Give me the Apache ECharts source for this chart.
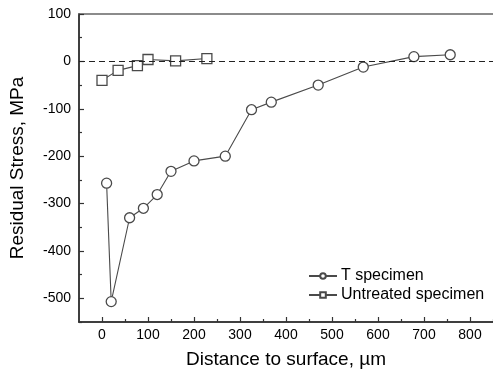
<!DOCTYPE html>
<html>
<head>
<meta charset="utf-8">
<script src="https://cdn.jsdelivr.net/npm/echarts@6/dist/echarts.min.js"></script>
<style>html,body{margin:0;padding:0;background:#fff}#c{width:493px;height:374px}</style>
</head>
<body>
<div id="c"></div>
<script>
// T specimen
const tDepth  = [10, 20, 60, 90, 120, 150, 200, 268, 325, 368, 470, 568, 678, 757];
const tStress = [-257, -507, -330, -310, -281, -232, -210, -200, -102, -86, -50, -12, 10, 14];
// Untreated specimen
const uDepth  = [0, 35, 77, 100, 160, 228];
const uStress = [-40, -19, -9, 4, 1, 6];
// Tick labels
const xMajor = [0, 100, 200, 300, 400, 500, 600, 700, 800];
const xMinor = [50, 150, 250, 350, 450, 550, 650, 750, 850];
const yMajor = [-500, -400, -300, -200, -100, 0, 100];
const yMinor = [-550, -450, -350, -250, -150, -50, 50];

const pair = (xs, ys) => xs.map((x, i) => [x, ys[i]]);
const FONT = 'Liberation Sans, Arial, sans-serif';
const lineCol = '#4a4a4a';
const axCol = '#333';

const chart = echarts.init(document.getElementById('c'));
const baseX = {
  type: 'value', min: -50, max: 850, interval: 50, gridIndex: 0,
  splitLine: { show: false },
  axisLine: { show: true, onZero: false, lineStyle: { color: axCol, width: 1.5 } }
};
const baseY = {
  type: 'value', min: -550, max: 100, interval: 50, gridIndex: 0,
  splitLine: { show: false },
  axisLine: { show: true, onZero: false, lineStyle: { color: axCol, width: 1.5 } }
};
chart.setOption({
  animation: false,
  backgroundColor: '#fff',
  grid: { left: 78, top: 14, bottom: 51, right: -5, containLabel: false },
  legend: {
    orient: 'vertical', left: 303, top: 263,
    itemWidth: 28, itemHeight: 7, itemGap: 3,
    textStyle: { fontFamily: FONT, fontSize: 16, color: '#000', padding: [0, 0, 0, -1] },
    data: ['T specimen', 'Untreated specimen']
  },
  xAxis: [
    Object.assign({}, baseX, {
      position: 'bottom',
      name: 'Distance to surface, µm', nameLocation: 'middle', nameGap: 28,
      nameTextStyle: { fontFamily: FONT, fontSize: 19, color: '#000' },
      axisTick: { show: true, inside: true, length: 5, customValues: xMajor, lineStyle: { color: axCol, width: 1.2 } },
      axisLabel: { show: true, customValues: xMajor, margin: 6, fontFamily: FONT, fontSize: 14, color: '#000' }
    }),
    Object.assign({}, baseX, {
      position: 'bottom',
      axisTick: { show: true, inside: true, length: 3, customValues: xMinor, lineStyle: { color: axCol, width: 1.2 } },
      axisLabel: { show: false }
    }),
    Object.assign({}, baseX, {
      position: 'top',
      axisTick: { show: false },
      axisLabel: { show: false },
      axisLine: { show: true, onZero: false, lineStyle: { color: '#666', width: 1.5 } }
    })
  ],
  yAxis: [
    Object.assign({}, baseY, {
      position: 'left',
      name: 'Residual Stress, MPa', nameLocation: 'middle', nameGap: 52,
      nameTextStyle: { fontFamily: FONT, fontSize: 19, color: '#000' },
      axisTick: { show: true, inside: true, length: 5, customValues: yMajor, lineStyle: { color: axCol, width: 1.2 } },
      axisLabel: { show: true, customValues: yMajor, margin: 8, fontFamily: FONT, fontSize: 14, color: '#000' }
    }),
    Object.assign({}, baseY, {
      position: 'left',
      axisTick: { show: true, inside: true, length: 3, customValues: yMinor, lineStyle: { color: axCol, width: 1.2 } },
      axisLabel: { show: false }
    })
  ],
  series: [
    {
      name: 'T specimen', type: 'line', xAxisIndex: 0, yAxisIndex: 0,
      data: pair(tDepth, tStress),
      symbol: 'circle', symbolSize: 10,
      lineStyle: { color: lineCol, width: 1.1 },
      itemStyle: { color: '#fff', borderColor: lineCol, borderWidth: 1.3 },
      markLine: {
        silent: true, symbol: 'none', label: { show: false },
        lineStyle: { color: '#222', type: [6, 4], width: 1.2 },
        data: [{ yAxis: 0 }]
      },
      z: 3
    },
    {
      name: 'Untreated specimen', type: 'line', xAxisIndex: 0, yAxisIndex: 0,
      data: pair(uDepth, uStress),
      symbol: 'rect', symbolSize: 10,
      lineStyle: { color: lineCol, width: 1.1 },
      itemStyle: { color: '#fff', borderColor: lineCol, borderWidth: 1.3 },
      z: 3
    }
  ]
});
</script>
</body>
</html>
